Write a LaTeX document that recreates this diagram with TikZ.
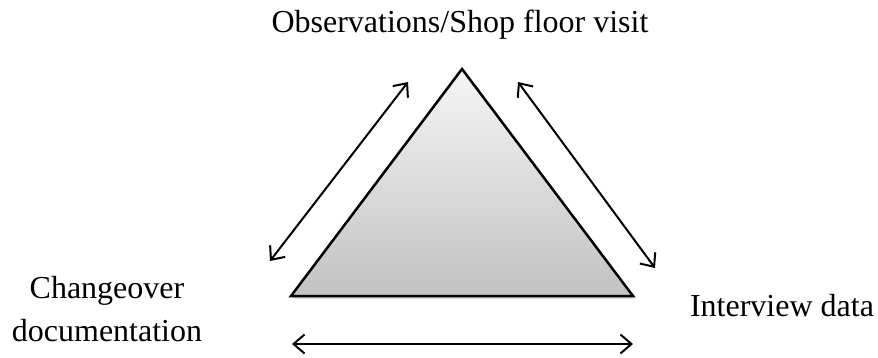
\documentclass[tikz,border=0pt]{standalone}
\usepackage{fontspec}
\setmainfont{Liberation Serif}
\usetikzlibrary{arrows.meta,calc}
\begin{document}
\begin{tikzpicture}[x=1pt,y=-1pt,
  lbl/.style={font=\fontsize{32}{43}\selectfont, inner sep=0pt, anchor=base, align=center},
  dbl/.style={line width=2pt, {Straight Barb[length=11pt,width=19pt,line width=2pt]}-{Straight Barb[length=11pt,width=19pt,line width=2pt]}}]
\useasboundingbox (0,0) rectangle (878,358);
\coordinate (apex) at (462,69);
\coordinate (bl) at (291,296);
\coordinate (br) at (633,296);
\fill[black!12] ($(apex)+(2,3)$) -- ($(bl)+(2,3)$) -- ($(br)+(2,3)$) -- cycle;
\shade[top color=gray!8, bottom color=gray!48, draw=black, line width=2.5pt, line join=miter]
  (apex) -- (bl) -- (br) -- cycle;
\coordinate (la) at (270,261);
\coordinate (lb) at (408,82);
\coordinate (ra) at (518,82);
\coordinate (rb) at (655,268);
\coordinate (ba) at (292,344);
\coordinate (bb) at (633,344);
\draw[dbl] (la) -- (lb);
\draw[dbl] (ra) -- (rb);
\draw[dbl] (ba) -- (bb);
\node[lbl] (obs) at (460,33) {Observations/Shop floor visit};
\node[lbl] (chg) at (107,298) {Changeover};
\node[lbl] (doc) at (107,341) {documentation};
\node[lbl] (int) at (782,316) {Interview data};
\end{tikzpicture}
\end{document}
